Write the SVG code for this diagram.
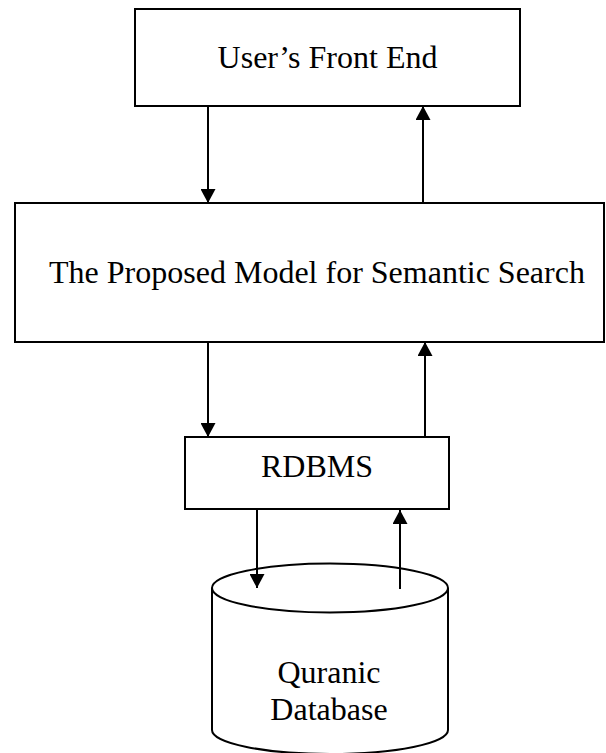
<svg xmlns="http://www.w3.org/2000/svg" width="606" height="753" viewBox="0 0 606 753">
  <style>
    .box { fill: #ffffff; stroke: #000000; stroke-width: 2; }
    .lbl { font-family: "Liberation Serif", "Times New Roman", serif; font-size: 32px; fill: #000000; text-anchor: middle; }
    .link { fill: none; stroke: #000000; stroke-width: 2; }
  </style>
  <defs>
    <marker id="arrow" viewBox="0 0 14 15" refX="14" refY="7.5" markerWidth="14" markerHeight="15" markerUnits="userSpaceOnUse" orient="auto">
      <path d="M0,0 L14,7.5 L0,15 Z" fill="#000000"/>
    </marker>
  </defs>
  <rect width="606" height="753" fill="#ffffff"/>

  <g id="front-end">
    <rect class="box" x="135" y="9" width="385" height="97"/>
    <text class="lbl" x="327.5" y="68">User’s Front End</text>
  </g>

  <g id="semantic-model">
    <rect class="box" x="15" y="203" width="589" height="139"/>
    <text class="lbl" x="317" y="283">The Proposed Model for Semantic Search</text>
  </g>

  <g id="rdbms">
    <rect class="box" x="185" y="437" width="264" height="72"/>
    <text class="lbl" x="317" y="477">RDBMS</text>
  </g>

  <g id="quranic-db">
    <path class="box" d="M212,588 L212,730 A118,24 0 0 0 448,730 L448,588"/>
    <ellipse class="box" cx="330" cy="588" rx="118" ry="24.5"/>
    <text class="lbl" x="329" y="683">Quranic</text>
    <text class="lbl" x="329" y="720">Database</text>
  </g>

  <g id="connectors">
    <line class="link" x1="208" y1="106" x2="208" y2="203" marker-end="url(#arrow)"/>
    <line class="link" x1="423" y1="203" x2="423" y2="106" marker-end="url(#arrow)"/>
    <line class="link" x1="208" y1="342" x2="208" y2="437" marker-end="url(#arrow)"/>
    <line class="link" x1="425" y1="437" x2="425" y2="342" marker-end="url(#arrow)"/>
    <line class="link" x1="257" y1="509" x2="257" y2="588" marker-end="url(#arrow)"/>
    <line class="link" x1="400" y1="589" x2="400" y2="510" marker-end="url(#arrow)"/>
  </g>
</svg>
